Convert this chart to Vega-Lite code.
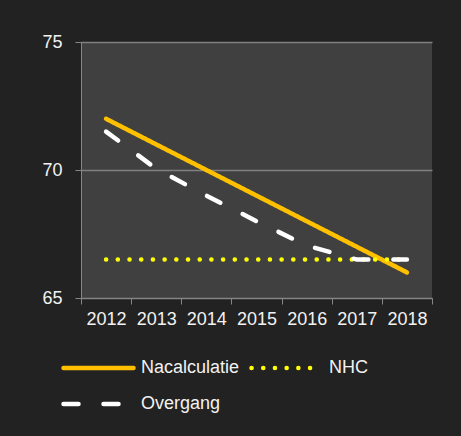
{
  "$schema": "https://vega.github.io/schema/vega-lite/v6.json",
  "autosize": "none",
  "width": 351,
  "height": 256,
  "padding": {"left": 81, "top": 42, "right": 29, "bottom": 138},
  "background": "#222222",
  "config": {
    "font": "Liberation Sans",
    "view": {"fill": "#404040", "stroke": null}
  },
  "data": {
    "values": [
      {"year": "2012", "series": "Nacalculatie", "value": 72},
      {"year": "2013", "series": "Nacalculatie", "value": 71},
      {"year": "2014", "series": "Nacalculatie", "value": 70},
      {"year": "2015", "series": "Nacalculatie", "value": 69},
      {"year": "2016", "series": "Nacalculatie", "value": 68},
      {"year": "2017", "series": "Nacalculatie", "value": 67},
      {"year": "2018", "series": "Nacalculatie", "value": 66},
      {"year": "2012", "series": "NHC", "value": 66.5},
      {"year": "2013", "series": "NHC", "value": 66.5},
      {"year": "2014", "series": "NHC", "value": 66.5},
      {"year": "2015", "series": "NHC", "value": 66.5},
      {"year": "2016", "series": "NHC", "value": 66.5},
      {"year": "2017", "series": "NHC", "value": 66.5},
      {"year": "2018", "series": "NHC", "value": 66.5},
      {"year": "2012", "series": "Overgang", "value": 71.5},
      {"year": "2013", "series": "Overgang", "value": 70.05},
      {"year": "2014", "series": "Overgang", "value": 69},
      {"year": "2015", "series": "Overgang", "value": 68},
      {"year": "2016", "series": "Overgang", "value": 67.05},
      {"year": "2017", "series": "Overgang", "value": 66.5},
      {"year": "2018", "series": "Overgang", "value": 66.5}
    ]
  },
  "mark": {"type": "line", "strokeWidth": 4.5, "strokeCap": "round"},
  "encoding": {
    "x": {
      "field": "year",
      "type": "ordinal",
      "bandPosition": 0.5,
      "scale": {"type": "band", "paddingInner": 0, "paddingOuter": 0},
      "axis": {
        "title": null,
        "labelAngle": 0,
        "tickBand": "extent",
        "domainColor": "#868686",
        "tickColor": "#868686",
        "tickSize": 6,
        "labelColor": "#f2f2f2",
        "labelFontSize": 18,
        "labelPadding": 6,
        "grid": false
      }
    },
    "y": {
      "field": "value",
      "type": "quantitative",
      "scale": {"domain": [65, 75], "zero": false, "nice": false},
      "axis": {
        "title": null,
        "values": [65, 70, 75],
        "domainColor": "#868686",
        "tickColor": "#868686",
        "tickSize": 6,
        "gridColor": "#808080",
        "gridWidth": 1.5,
        "labelColor": "#f2f2f2",
        "labelFontSize": 18,
        "labelPadding": 13
      }
    },
    "color": {
      "field": "series",
      "type": "nominal",
      "scale": {"domain": ["Nacalculatie", "NHC", "Overgang"], "range": ["#FFC000", "#FFFF00", "#FFFFFF"]},
      "legend": {
        "title": null,
        "orient": "none",
        "legendX": -20,
        "legendY": 314,
        "direction": "horizontal",
        "columns": 2,
        "symbolType": "stroke",
        "symbolSize": 4900,
        "symbolStrokeWidth": 4.5,
        "clipHeight": 24,
        "labelColor": "#f2f2f2",
        "labelFontSize": 18,
        "labelOffset": 5,
        "columnPadding": 9,
        "rowPadding": 12,
        "encode": {"symbols": {"update": {"strokeCap": {"value": "round"}}}}
      }
    },
    "strokeDash": {
      "field": "series",
      "type": "nominal",
      "scale": {"domain": ["Nacalculatie", "NHC", "Overgang"], "range": [[1, 0], [0.1, 11.6], [15, 25]]}
    }
  }
}
